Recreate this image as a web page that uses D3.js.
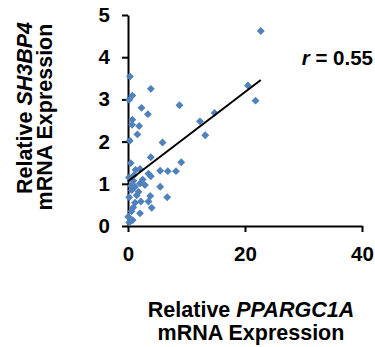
<!DOCTYPE html>
<html lang="en">
<head>
    <meta charset="UTF-8">
    <title>SH3BP4 vs PPARGC1A</title>
    <script src="https://d3js.org/d3.v7.min.js"></script>
    <style>
        body { margin: 0; background: #fff; }
        text { font-family: "Liberation Sans", Arial, sans-serif; font-weight: bold; fill: #000; }
    </style>
</head>
<body>
    <div id="chart"></div>

    <script>
        // Relative PPARGC1A mRNA expression (x) and SH3BP4 mRNA expression (y)
        const ppargc1a = [22.7, 20.5, 21.8, 14.8, 12.3, 13.2, 8.8, 9.1, 0.34, 0.74,
            0.2, 3.9, 2.3, 3.4, 0.74, 0.7, 1.9, 1.6, 0.3, 5.9,
            3.9, 0.46, 1.3, 2.05, 5.5, 6.8, 8.2, 3.5, 3.9, 0.17,
            0.9, 2.05, 2.9, 1.2, 5.5, 0.2, 1.5, 1.8, 3.8, 6.7,
            0.63, 2.2, 3.5, 4.05, 0.9, 2.05, 0.05, 0.8, 0.2, 1.0,
            2.5, 0.6, 1.2, 0.5];
        const sh3bp4 = [4.62, 3.33, 2.97, 2.68, 2.48, 2.15, 2.86, 1.51, 3.54, 3.09,
            2.99, 3.25, 2.80, 2.65, 2.52, 2.40, 2.37, 2.17, 2.02, 1.98,
            1.63, 1.49, 1.33, 1.35, 1.31, 1.30, 1.30, 1.24, 1.18, 1.15,
            1.07, 1.01, 0.97, 0.93, 0.93, 0.68, 0.73, 0.81, 0.71, 0.68,
            0.85, 0.58, 0.58, 0.43, 0.44, 0.30, 0.22, 0.14, 0.08, 1.20,
            1.10, 0.35, 0.55, 0.95];

        // linear trend line endpoints
        const trendX = [0, 22.7];
        const trendY = [1.06, 3.46];

        const xTicks = [0, 20, 40];
        const yTicks = [0, 1, 2, 3, 4, 5];
        const rLabel = "0.55";

        const width = 375, height = 347;

        const svg = d3.select("#chart")
            .append("svg")
            .attr("width", width)
            .attr("height", height);

        const x = d3.scaleLinear().domain([0, 40]).range([128, 362]);
        const y = d3.scaleLinear().domain([0, 5]).range([226, 15]);

        // Axes
        const xAxis = svg.append("g")
            .attr("transform", `translate(0, ${y(0)})`)
            .call(d3.axisBottom(x).tickValues(xTicks).tickFormat(d3.format("d"))
                .tickSize(6).tickSizeOuter(0).tickPadding(14));

        const yAxis = svg.append("g")
            .attr("transform", `translate(${x(0)}, 0)`)
            .call(d3.axisLeft(y).tickValues(yTicks).tickFormat(d3.format("d"))
                .tickSize(6).tickSizeOuter(0).tickPadding(12));

        [xAxis, yAxis].forEach(g => {
            g.selectAll("path, line").attr("stroke", "#000").attr("stroke-width", 2);
            g.selectAll("text")
                .attr("font-size", 20.5)
                .style("font-family", "'Liberation Sans', Arial, sans-serif")
                .style("font-weight", "bold")
                .attr("fill", "#000");
        });

        // Points
        const points = ppargc1a.map((v, i) => ({ x: v, y: sh3bp4[i] }));
        const diamond = d3.symbol().type(d3.symbolSquare).size(31);

        svg.append("g")
            .selectAll("path")
            .data(points)
            .join("path")
            .attr("d", diamond)
            .attr("transform", d => `translate(${x(d.x)}, ${y(d.y)}) rotate(45)`)
            .attr("fill", "#4f81bd");

        // Trend line
        const line = d3.line()
            .x(d => x(d[0]))
            .y(d => y(d[1]));

        svg.append("path")
            .datum(trendX.map((v, i) => [v, trendY[i]]))
            .attr("fill", "none")
            .attr("stroke", "#000")
            .attr("stroke-width", 2)
            .attr("d", line);

        // r annotation
        const rText = svg.append("text")
            .attr("x", 373)
            .attr("y", 65)
            .attr("text-anchor", "end")
            .attr("font-size", 20.5);
        rText.append("tspan").attr("font-style", "italic").text("r");
        rText.append("tspan").text(" = " + rLabel);

        // X title
        const xTitle = svg.append("text")
            .attr("x", 251)
            .attr("y", 317)
            .attr("text-anchor", "middle")
            .attr("font-size", 21.5);
        xTitle.append("tspan").text("Relative ");
        xTitle.append("tspan").attr("font-style", "italic").text("PPARGC1A");

        svg.append("text")
            .attr("x", 251)
            .attr("y", 340)
            .attr("text-anchor", "middle")
            .attr("font-size", 21.5)
            .text("mRNA Expression");

        // Y title
        const yTitle = svg.append("text")
            .attr("transform", "translate(32, 108) rotate(-90)")
            .attr("text-anchor", "middle")
            .attr("font-size", 21.5);
        yTitle.append("tspan").text("Relative ");
        yTitle.append("tspan").attr("font-style", "italic").text("SH3BP4");

        svg.append("text")
            .attr("transform", "translate(52, 117) rotate(-90)")
            .attr("text-anchor", "middle")
            .attr("font-size", 21.5)
            .text("mRNA Expression");
    </script>
</body>
</html>
